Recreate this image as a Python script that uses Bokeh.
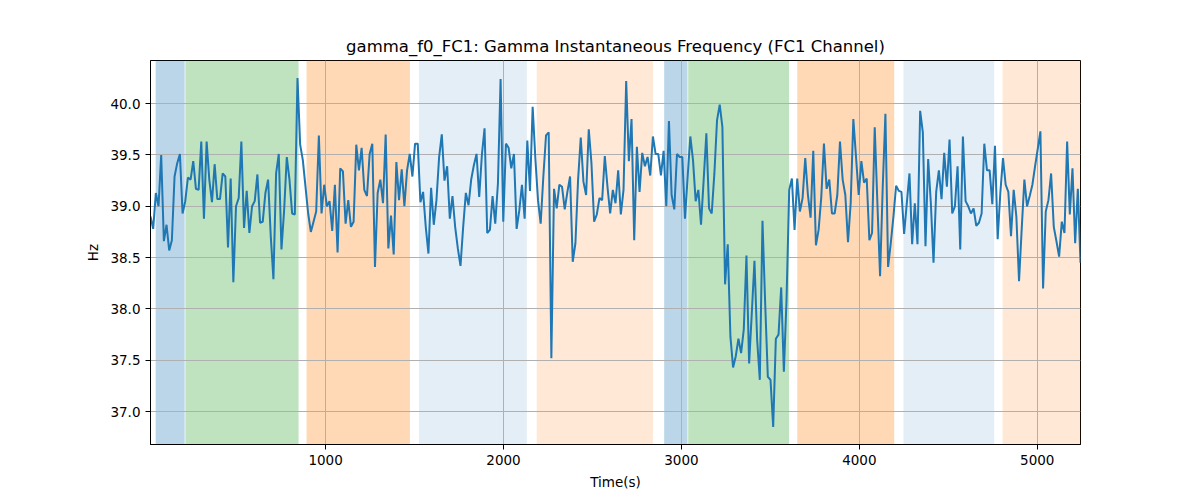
import numpy as np
from bokeh.plotting import figure
from bokeh.models import Range1d, FixedTicker, PrintfTickFormatter, BoxAnnotation
from bokeh.embed import file_html
from bokeh.resources import INLINE

chart_title = "gamma_f0_FC1: Gamma Instantaneous Frequency (FC1 Channel)"

# sampling of the instantaneous frequency trace
t_start = 16.0
t_step = 15.02

hz = [
    38.90, 38.78, 39.13, 39.00, 39.50, 38.66, 38.82, 38.57, 38.67, 39.29,
    39.42, 39.51, 38.93, 39.05, 39.28, 39.26, 39.44, 39.17, 39.16, 39.63,
    38.88, 39.63, 39.26, 39.04, 39.41, 39.07, 39.07, 39.32, 39.29, 38.60,
    39.27, 38.26, 39.00, 39.08, 39.63, 38.79, 39.15, 38.74, 39.00, 39.05,
    39.31, 38.84, 38.85, 39.13, 39.26, 38.71, 38.29, 39.32, 39.51, 38.58,
    38.96, 39.48, 39.26, 38.93, 38.92, 40.25, 39.60, 39.45, 39.19, 38.93,
    38.75, 38.85, 38.95, 39.69, 38.93, 39.21, 39.00, 39.05, 38.76, 39.21,
    38.55, 39.37, 39.34, 38.83, 39.06, 38.80, 38.85, 39.60, 39.35, 39.57,
    39.16, 39.10, 39.51, 39.61, 38.41, 39.13, 39.26, 39.03, 39.70, 38.59,
    38.91, 38.53, 39.43, 39.06, 39.36, 39.00, 39.35, 39.51, 39.29, 39.61,
    39.61, 39.04, 39.14, 38.80, 38.54, 39.18, 38.82, 39.06, 39.48, 39.70,
    39.25, 39.39, 38.88, 39.10, 38.80, 38.59, 38.42, 38.80, 39.13, 39.01,
    39.26, 39.40, 39.51, 39.09, 39.50, 39.76, 38.74, 38.77, 39.10, 38.83,
    39.22, 40.24, 38.85, 39.61, 39.57, 39.37, 39.51, 38.78, 38.96, 39.21,
    38.88, 39.64, 39.15, 39.97, 39.47, 39.06, 38.83, 39.29, 39.69, 39.72,
    37.52, 39.17, 38.98, 39.21, 39.19, 38.97, 39.14, 39.29, 38.46, 38.64,
    39.26, 39.67, 39.24, 39.11, 39.75, 39.42, 38.85, 38.92, 39.08, 39.06,
    39.49, 39.19, 38.93, 39.16, 39.03, 39.35, 38.92, 39.16, 40.22, 39.44,
    39.85, 38.67, 39.58, 39.14, 39.52, 39.39, 39.48, 39.30, 39.68, 39.51,
    39.51, 39.30, 39.54, 39.00, 39.83, 39.11, 38.97, 39.51, 39.48, 39.48,
    38.88, 39.29, 39.68, 39.45, 39.05, 39.16, 38.82, 39.26, 39.71, 38.98,
    38.93, 39.32, 39.84, 39.99, 39.77, 38.24, 38.63, 37.73, 37.43, 37.54,
    37.71, 37.57, 37.80, 38.52, 37.47, 37.96, 38.47, 37.70, 37.31, 38.86,
    38.06, 37.34, 37.31, 36.85, 37.71, 37.75, 38.21, 37.39, 38.09, 39.16,
    39.27, 38.77, 39.27, 38.95, 39.08, 39.47, 39.11, 38.89, 39.54, 38.62,
    38.77, 39.09, 39.61, 39.17, 39.26, 38.93, 38.93, 39.11, 39.63, 39.26,
    39.11, 38.65, 39.03, 39.85, 39.48, 39.11, 39.44, 39.23, 39.27, 38.67,
    38.74, 39.77, 39.03, 38.32, 39.19, 39.90, 38.41, 38.64, 38.90, 39.20,
    39.15, 39.14, 38.73, 39.03, 39.32, 38.63, 39.03, 38.63, 39.93, 39.72,
    38.61, 39.46, 39.03, 38.45, 39.14, 39.35, 39.07, 39.52, 39.19, 39.65,
    38.93, 39.00, 39.39, 38.58, 39.68, 39.05, 39.00, 38.93, 38.98, 38.81,
    38.84, 38.93, 39.61, 39.35, 39.35, 39.02, 39.59, 38.68, 39.13, 39.47,
    39.21, 39.14, 38.71, 39.16, 38.90, 38.27, 38.78, 39.26, 39.00, 39.10,
    39.21, 39.39, 39.56, 39.73, 38.20, 38.95, 39.06, 39.32, 38.80, 38.66,
    38.51, 38.85, 38.74, 39.63, 38.92, 39.37, 38.64, 39.17, 38.45,
]

# shaded segments (seconds)
seg_left = [45, 212, 893, 1525, 2187, 2903, 3038, 3651, 4248, 4805]
seg_right = [208, 848, 1474, 2131, 2840, 3034, 3605, 4196, 4758, 5300]
seg_color = ["#1f77b4", "#2ca02c", "#ff7f0e", "#1f77b4", "#ff7f0e",
             "#1f77b4", "#2ca02c", "#ff7f0e", "#1f77b4", "#ff7f0e"]
seg_alpha = [0.3, 0.3, 0.3, 0.12, 0.17, 0.3, 0.3, 0.3, 0.12, 0.17]

x_ticks = [1000, 2000, 3000, 4000, 5000]
y_ticks = [37.0, 37.5, 38.0, 38.5, 39.0, 39.5, 40.0]

t = t_start + t_step * np.arange(len(hz))
lo, hi = min(hz), max(hz)
pad = 0.05 * (hi - lo)

FONT = "DejaVu Sans"

p = figure(width=1192, height=492, output_backend="svg", toolbar_location=None,
           x_range=Range1d(t[0], t[-1]), y_range=Range1d(lo - pad, hi + pad),
           title=chart_title, min_border_left=150, min_border_right=112,
           min_border_top=60, min_border_bottom=47)

p.title.align = "center"
p.title.text_font = FONT
p.title.text_font_size = "16.5px"
p.title.text_font_style = "normal"
p.title.text_color = "black"

for l, r, c, a in zip(seg_left, seg_right, seg_color, seg_alpha):
    box = BoxAnnotation(left=l, right=r, fill_color=c, fill_alpha=a,
                        line_alpha=0, level="image")
    p.add_layout(box)

p.line(t, hz, line_color="#1f77b4", line_width=2)

p.xaxis.ticker = FixedTicker(ticks=x_ticks)
p.yaxis.ticker = FixedTicker(ticks=y_ticks)
p.yaxis.formatter = PrintfTickFormatter(format="%.1f")
p.xaxis.axis_label = "Time(s)"
p.yaxis.axis_label = "Hz"

for ax in (p.xaxis, p.yaxis):
    ax.axis_label_text_font = FONT
    ax.axis_label_text_font_size = "13.5px"
    ax.axis_label_text_font_style = "normal"
    ax.axis_label_text_color = "black"
    ax.major_label_text_font = FONT
    ax.major_label_text_font_size = "13.5px"
    ax.major_label_text_color = "black"
    ax.axis_line_color = "black"
    ax.major_tick_line_color = "black"
    ax.major_tick_out = 5
    ax.major_tick_in = 0
    ax.minor_tick_line_color = None
    ax.axis_label_standoff = 6

p.grid.grid_line_color = "#b0b0b0"
p.grid.grid_line_width = 1
p.outline_line_color = "black"
p.outline_line_width = 1

open("out.html", "w").write(file_html(p, INLINE))
